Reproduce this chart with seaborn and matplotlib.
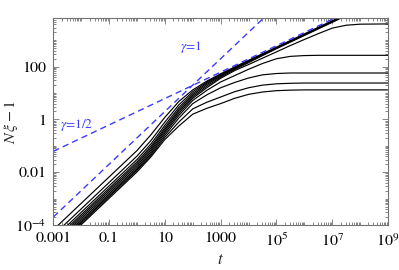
import numpy as np
import pandas as pd
import matplotlib
matplotlib.use("Agg")
import matplotlib.pyplot as plt
import seaborn as sns
from matplotlib.ticker import LogLocator, NullFormatter

# log10(t) positions where the curves were read
log_t = [-3, -1, 0, 0.5, 1, 1.5, 2, 2.5, 3, 3.5, 4, 4.5, 5, 5.5, 6, 6.5, 7, 7.5, 8, 9]

# log10(N xi - 1) of each black curve, top to bottom
curve_1 = [-4.18, -2.18, -1.18, -0.58, 0.08, 0.68, 1.12, 1.45, 1.73, 1.99, 2.24, 2.49, 2.74, 2.99, 3.24, 3.49, 3.74, 3.99, 4.24, 4.74]
curve_2 = [-4.39, -2.39, -1.39, -0.80, -0.10, 0.55, 1.05, 1.41, 1.70, 1.96, 2.22, 2.47, 2.72, 2.97, 3.22, 3.47, 3.72, 3.97, 4.22, 4.72]
curve_3 = [-4.52, -2.52, -1.52, -0.93, -0.22, 0.45, 0.98, 1.37, 1.67, 1.94, 2.20, 2.45, 2.71, 2.96, 3.21, 3.46, 3.71, 3.96, 4.21, 4.71]
curve_4 = [-4.61, -2.61, -1.61, -1.02, -0.31, 0.37, 0.92, 1.32, 1.64, 1.92, 2.18, 2.44, 2.70, 2.95, 3.20, 3.45, 3.70, 3.95, 4.20, 4.70]
curve_5 = [-4.68, -2.68, -1.68, -1.09, -0.38, 0.30, 0.86, 1.26, 1.60, 1.89, 2.15, 2.42, 2.68, 2.93, 3.18, 3.43, 3.68, 3.93, 4.18, 4.68]
curve_6 = [-4.75, -2.75, -1.75, -1.16, -0.45, 0.23, 0.80, 1.20, 1.56, 1.85, 2.08, 2.32, 2.56, 2.80, 3.03, 3.25, 3.46, 3.57, 3.61, 3.62]
curve_7 = [-4.82, -2.82, -1.82, -1.23, -0.52, 0.15, 0.72, 1.10, 1.42, 1.66, 1.90, 2.12, 2.30, 2.39, 2.42, 2.43, 2.43, 2.43, 2.43, 2.43]
curve_8 = [-4.88, -2.88, -1.88, -1.30, -0.60, 0.05, 0.60, 0.93, 1.20, 1.40, 1.57, 1.69, 1.74, 1.76, 1.76, 1.76, 1.76, 1.76, 1.76, 1.76]
curve_9 = [-4.93, -2.93, -1.93, -1.36, -0.68, -0.10, 0.40, 0.65, 0.85, 1.05, 1.20, 1.30, 1.35, 1.37, 1.38, 1.38, 1.38, 1.38, 1.38, 1.38]
curve_10 = [-4.99, -2.99, -1.99, -1.42, -0.76, -0.25, 0.20, 0.42, 0.60, 0.80, 0.95, 1.04, 1.09, 1.11, 1.12, 1.12, 1.12, 1.12, 1.12, 1.12]

# reference power laws (end points)
gamma1_t = [1e-3, 1e5]
gamma1_y = [2e-4, 2e4]
gamma_half_t = [1e-3, 1e8]
gamma_half_y = [0.062, 19600]

x_ticks = [1e-3, 1e-1, 1e1, 1e3, 1e5, 1e7, 1e9]
x_tick_labels = ["0.001", "0.1", "10", "1000", "$10^5$", "$10^7$", "$10^9$"]
y_ticks = [1e-4, 1e-2, 1, 1e2]
y_tick_labels = ["$10^{-4}$", "0.01", "1", "100"]

curves = [curve_1, curve_2, curve_3, curve_4, curve_5,
          curve_6, curve_7, curve_8, curve_9, curve_10]
rows = []
for k, c in enumerate(curves):
    for lt, ly in zip(log_t, c):
        rows.append({"curve": k, "t": 10.0 ** lt, "y": 10.0 ** ly})
df = pd.DataFrame(rows)

sns.set_style("ticks")
plt.rcParams["font.family"] = ["STIXGeneral", "DejaVu Serif"]
plt.rcParams["mathtext.fontset"] = "stix"
plt.rcParams["xtick.direction"] = "in"
plt.rcParams["ytick.direction"] = "in"

blue = "#3b3bff"
fig = plt.figure(figsize=(3.99, 2.70), dpi=100)
ax = fig.add_axes([0.1336, 0.1667, 0.8388, 0.7655])

sns.lineplot(data=df, x="t", y="y", units="curve", estimator=None,
             color="black", lw=0.85, ax=ax, legend=False)
sns.lineplot(x=gamma1_t, y=gamma1_y, color=blue, lw=1.0, ax=ax,
             linestyle=(0, (4.5, 3)))
sns.lineplot(x=gamma_half_t, y=gamma_half_y, color=blue, lw=1.0, ax=ax,
             linestyle=(0, (4.5, 3)))

ax.set_xscale("log")
ax.set_yscale("log")
ax.set_xlim(1e-3, 1e9)
ax.set_ylim(1e-4, 6800)

ax.set_xticks(x_ticks, x_tick_labels)
ax.set_yticks(y_ticks, y_tick_labels)
ax.xaxis.set_minor_locator(LogLocator(base=10, subs=np.arange(1, 10), numticks=60))
ax.yaxis.set_minor_locator(LogLocator(base=10, subs=np.arange(1, 10), numticks=60))
ax.xaxis.set_minor_formatter(NullFormatter())
ax.yaxis.set_minor_formatter(NullFormatter())
ax.tick_params(which="both", top=True, right=True, colors="0.45",
               labelcolor="black", labelsize=11.5, width=0.6)
ax.tick_params(which="major", length=4, pad=5)
ax.tick_params(which="minor", length=2)
for s in ax.spines.values():
    s.set_color("0.45")
    s.set_linewidth(0.8)

ax.set_xlabel("$t$", fontsize=12, labelpad=2)
ax.set_ylabel(r"$N\,\xi-1$", fontsize=11.5)
ax.yaxis.set_label_coords(-0.1, 0.5)

ax.text(35, 560, r"$\gamma$=1", color=blue, fontsize=9.5, va="center")
ax.text(1.7e-3, 0.62, r"$\gamma$=1/2", color=blue, fontsize=9.5, va="center")

fig.savefig("out.png", dpi=100)
